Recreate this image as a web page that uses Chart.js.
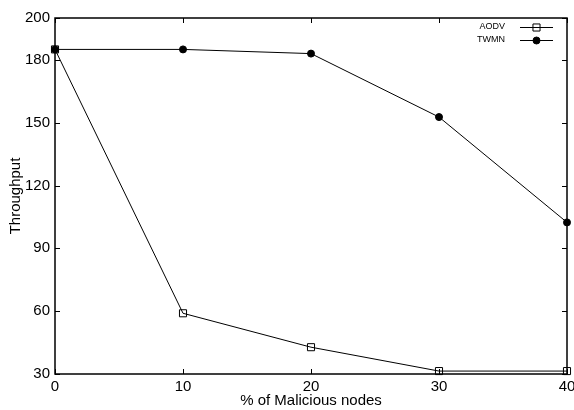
<!DOCTYPE html>
<html>
<head>
<meta charset="utf-8">
<script src="https://cdn.jsdelivr.net/npm/chart.js@4.4.1/dist/chart.umd.min.js"></script>
<style>
  html, body { margin: 0; padding: 0; background: #fff; }
  #wrap { width: 574px; height: 410px; }
</style>
</head>
<body>
<div id="wrap"><canvas id="chart"></canvas></div>
<script>
// data
const maliciousPct = [0, 10, 20, 30, 40];
const aodvThroughput = [185, 59, 42.8, 31.4, 31.4];
const twmnThroughput = [185, 185, 183, 152.7, 102.4];
const yTickValues = [30, 60, 90, 120, 150, 180, 200];
const xTickValues = [0, 10, 20, 30, 40];

const FONT = '"Liberation Sans", Arial, Helvetica, sans-serif';

function toPoints(xs, ys) {
  return xs.map((x, i) => ({ x: x, y: ys[i] }));
}

// gnuplot style frame with inward ticks on all four sides
const frameTicks = {
  id: 'frameTicks',
  beforeDatasetsDraw(chart) {
    const ctx = chart.ctx;
    const a = chart.chartArea;
    const xs = chart.scales.x;
    const ys = chart.scales.y;
    const len = 5;
    ctx.save();
    ctx.strokeStyle = '#000';
    ctx.lineWidth = 1;
    ctx.beginPath();
    xTickValues.forEach(v => {
      const px = Math.round(xs.getPixelForValue(v)) + 0.5;
      ctx.moveTo(px, a.bottom); ctx.lineTo(px, a.bottom - len);
      ctx.moveTo(px, a.top); ctx.lineTo(px, a.top + len);
    });
    yTickValues.forEach(v => {
      const py = Math.round(ys.getPixelForValue(v)) + 0.5;
      ctx.moveTo(a.left, py); ctx.lineTo(a.left + len, py);
      ctx.moveTo(a.right, py); ctx.lineTo(a.right - len, py);
    });
    ctx.stroke();
    ctx.lineWidth = 1.5;
    ctx.strokeRect(a.left, a.top, a.right - a.left, a.bottom - a.top);
    ctx.restore();
  }
};

// key in the top right corner, text left of a line sample with the marker
const gnuKey = {
  id: 'gnuKey',
  afterDatasetsDraw(chart) {
    const ctx = chart.ctx;
    const a = chart.chartArea;
    const textRight = a.right - 62;
    const lineL = a.right - 47;
    const lineR = a.right - 14;
    ctx.save();
    ctx.font = '9px ' + FONT;
    ctx.textAlign = 'right';
    ctx.textBaseline = 'middle';
    chart.data.datasets.forEach((ds, i) => {
      const y = a.top + 9 + i * 13;
      ctx.fillStyle = '#000';
      ctx.fillText(ds.label, textRight, y);
      ctx.strokeStyle = '#000';
      ctx.lineWidth = 1;
      ctx.beginPath();
      ctx.moveTo(lineL, y + 0.5);
      ctx.lineTo(lineR, y + 0.5);
      ctx.stroke();
      ctx.fillStyle = ds.pointBackgroundColor;
      Chart.helpers.drawPoint(ctx, {
        pointStyle: ds.pointStyle,
        radius: ds.pointRadius,
        borderWidth: ds.pointBorderWidth
      }, (lineL + lineR) / 2, y + 0.5);
    });
    ctx.restore();
  }
};

new Chart(document.getElementById('chart'), {
  type: 'line',
  data: {
    datasets: [
      {
        label: 'AODV',
        data: toPoints(maliciousPct, aodvThroughput),
        borderColor: '#000',
        borderWidth: 1,
        pointStyle: 'rect',
        pointRadius: 5,
        pointBorderWidth: 1,
        pointBorderColor: '#000',
        pointBackgroundColor: 'rgba(255,255,255,0)',
        tension: 0,
        clip: false
      },
      {
        label: 'TWMN',
        data: toPoints(maliciousPct, twmnThroughput),
        borderColor: '#000',
        borderWidth: 1,
        pointStyle: 'circle',
        pointRadius: 3.5,
        pointBorderWidth: 1,
        pointBorderColor: '#000',
        pointBackgroundColor: '#000',
        tension: 0,
        clip: false
      }
    ]
  },
  options: {
    responsive: true,
    maintainAspectRatio: false,
    animation: false,
    events: [],
    layout: {
      padding: { top: 18, right: 7, left: 0, bottom: 0 }
    },
    scales: {
      x: {
        type: 'linear',
        min: 0,
        max: 40,
        grid: { display: false, drawTicks: false },
        border: { display: false },
        ticks: {
          stepSize: 10,
          padding: 4,
          color: '#000',
          maxRotation: 0,
          font: { family: FONT, size: 15 }
        },
        title: {
          display: true,
          text: '% of Malicious nodes',
          color: '#000',
          padding: 0,
          font: { family: FONT, size: 15 }
        },
        afterFit(s) {
          s.height = 36;
          s.paddingLeft = 0;
          s.paddingRight = 0;
        }
      },
      y: {
        min: 30,
        max: 200,
        grid: { display: false, drawTicks: false },
        border: { display: false },
        afterBuildTicks(s) {
          s.ticks = yTickValues.map(v => ({ value: v }));
        },
        ticks: {
          padding: 5,
          color: '#000',
          font: { family: FONT, size: 15 }
        },
        title: {
          display: true,
          text: 'Throughput',
          color: '#000',
          padding: { top: 7, bottom: 0 },
          font: { family: FONT, size: 15 }
        },
        afterFit(s) {
          s.width = 55;
        }
      }
    },
    plugins: {
      legend: { display: false },
      title: { display: false },
      tooltip: { enabled: false }
    }
  },
  plugins: [frameTicks, gnuKey]
});
</script>
</body>
</html>
